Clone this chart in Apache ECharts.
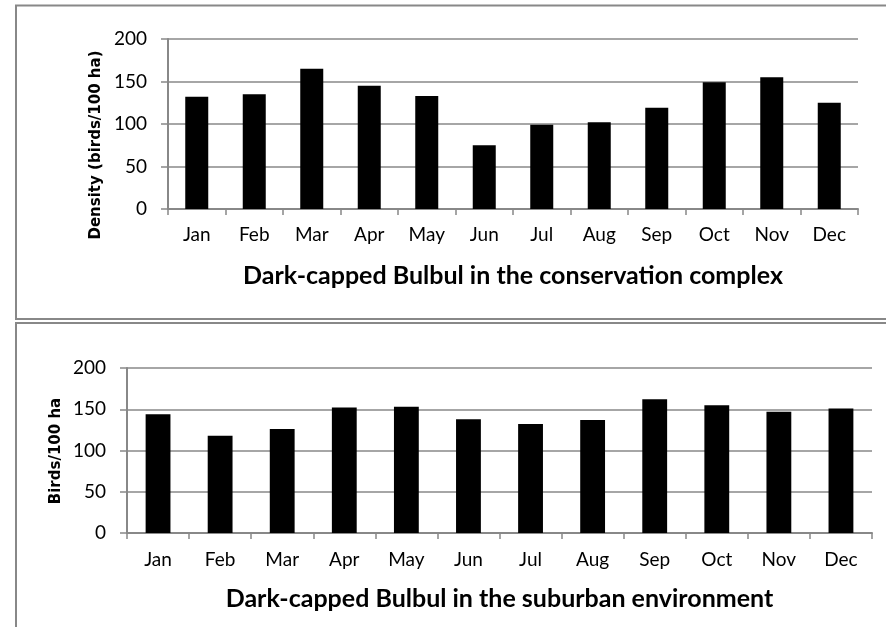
<!DOCTYPE html>
<html>
<head>
<meta charset="utf-8">
<script src="https://cdn.jsdelivr.net/npm/echarts@6/dist/echarts.min.js"></script>
<style>
  html, body { margin: 0; padding: 0; background: #fff; }
  #chart { width: 886px; height: 627px; }
</style>
</head>
<body>
<div id="chart"></div>
<script>
const months = ['Jan','Feb','Mar','Apr','May','Jun','Jul','Aug','Sep','Oct','Nov','Dec'];
const conservationDensity = [132, 135, 165, 145, 133, 75, 99, 102, 119, 149, 155, 125];
const suburbanDensity = [144, 118, 126, 152, 153, 138, 132, 137, 162, 155, 147, 151];
const yTicks = [0, 50, 100, 150, 200];
const topTitle = 'Dark-capped Bulbul in the conservation complex';
const bottomTitle = 'Dark-capped Bulbul in the suburban environment';
const topYName = 'Density (birds/100 ha)';
const bottomYName = 'Birds/100 ha';

const gray = '#888888';
const labelFont = { fontFamily: 'Lato', fontSize: 19, color: '#000' };

function xAxisCfg(gridIndex, margin) {
  return {
    type: 'category', gridIndex: gridIndex, data: months,
    boundaryGap: true,
    axisLine: { show: true, lineStyle: { color: gray, width: 2 } },
    axisTick: { show: true, alignWithLabel: false, length: 6, lineStyle: { color: gray, width: 1.5 } },
    axisLabel: Object.assign({ margin: margin, interval: 0 }, labelFont),
    splitLine: { show: false }
  };
}
function yAxisCfg(gridIndex) {
  return {
    type: 'value', gridIndex: gridIndex,
    min: yTicks[0], max: yTicks[yTicks.length - 1], interval: yTicks[1] - yTicks[0],
    axisLine: { show: true, lineStyle: { color: gray, width: 2 } },
    axisTick: { show: true, length: 7, lineStyle: { color: gray, width: 1.5 } },
    axisLabel: Object.assign({ margin: 21 }, labelFont),
    splitLine: { show: true, lineStyle: { color: gray, width: 1.5 } }
  };
}

const chart = echarts.init(document.getElementById('chart'), null, { renderer: 'canvas' });
chart.setOption({
  animation: false,
  backgroundColor: '#fff',
  grid: [
    { left: 168, top: 39, width: 690, height: 170 },
    { left: 127, top: 368, width: 745, height: 165 }
  ],
  xAxis: [xAxisCfg(0, 16), xAxisCfg(1, 17)],
  yAxis: [yAxisCfg(0), yAxisCfg(1)],
  series: [
    { type: 'bar', xAxisIndex: 0, yAxisIndex: 0, data: conservationDensity, barWidth: '40%', itemStyle: { color: '#000' } },
    { type: 'bar', xAxisIndex: 1, yAxisIndex: 1, data: suburbanDensity, barWidth: '40%', itemStyle: { color: '#000' } }
  ],
  graphic: [
    { type: 'rect', shape: { x: 16, y: 5.5, width: 900, height: 313.5 }, style: { fill: 'none', stroke: gray, lineWidth: 2 }, z: 0 },
    { type: 'rect', shape: { x: 16, y: 323, width: 900, height: 400 }, style: { fill: 'none', stroke: gray, lineWidth: 2 }, z: 0 },
    { type: 'text', x: 513, y: 276, style: { text: topTitle, font: 'bold 25px Lato', fill: '#000', textAlign: 'center', textVerticalAlign: 'middle' }, z: 10 },
    { type: 'text', x: 499.5, y: 599, style: { text: bottomTitle, font: 'bold 25px Lato', fill: '#000', textAlign: 'center', textVerticalAlign: 'middle' }, z: 10 },
    { type: 'text', x: 96, y: 145, rotation: Math.PI / 2, style: { text: topYName, font: 'bold 15px "DejaVu Sans"', fill: '#000', textAlign: 'center', textVerticalAlign: 'middle' }, z: 10 },
    { type: 'text', x: 56, y: 451, rotation: Math.PI / 2, style: { text: bottomYName, font: 'bold 15px "DejaVu Sans"', fill: '#000', textAlign: 'center', textVerticalAlign: 'middle' }, z: 10 }
  ]
});
</script>
</body>
</html>
